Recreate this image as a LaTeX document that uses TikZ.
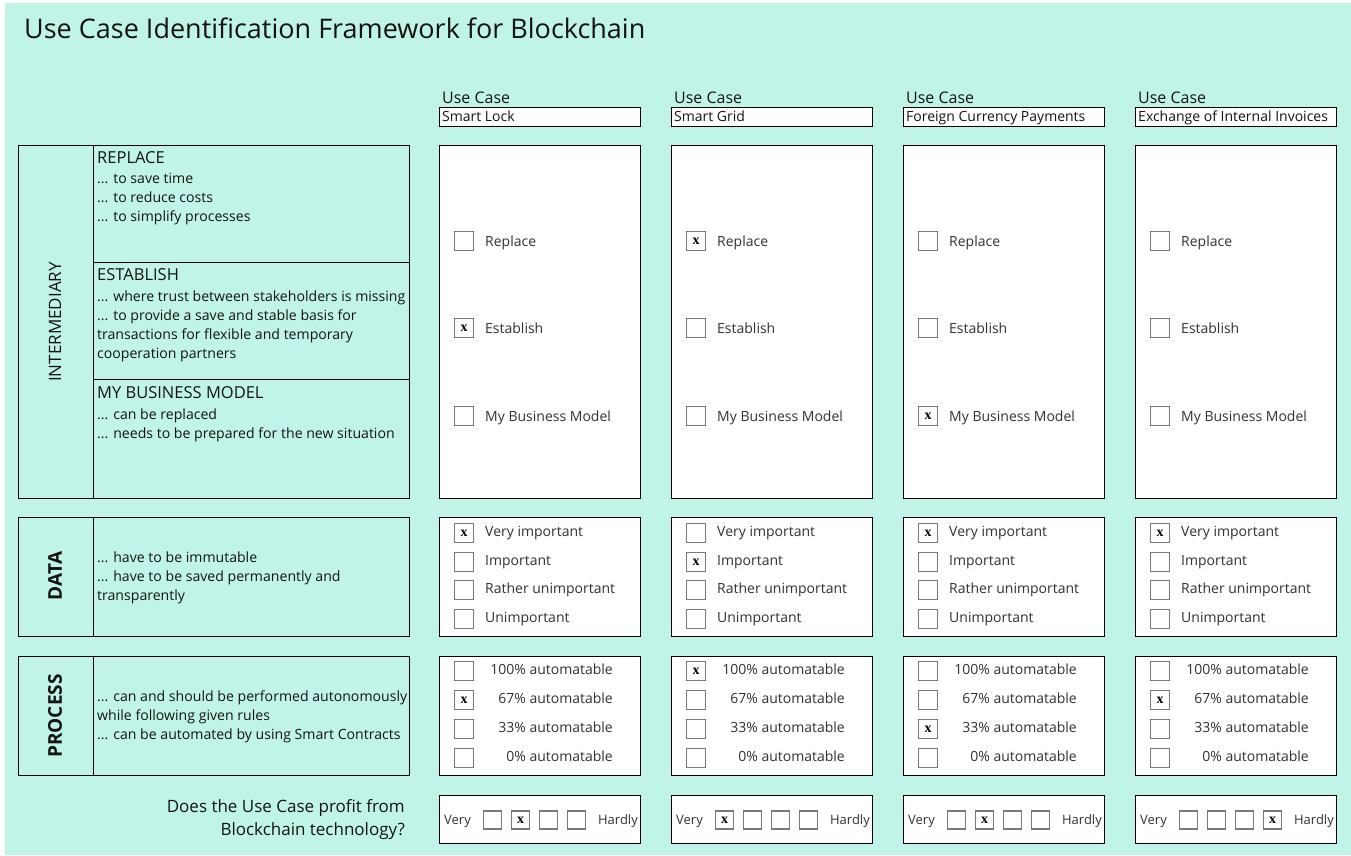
\documentclass[tikz,border=0pt]{standalone}
\usepackage{fontspec}
\setmainfont{Open Sans}
\newfontfamily\xfont{Liberation Serif}
\definecolor{mint}{RGB}{192,244,232}
\definecolor{cbgray}{RGB}{120,120,120}
\definecolor{ink}{RGB}{20,20,20}
\definecolor{labink}{RGB}{50,50,50}
\newcommand{\fs}[1]{\fontsize{#1}{#1}\selectfont}
\begin{document}
\begin{tikzpicture}[x=1pt,y=-1pt,
  frame/.style={draw=black,line width=1pt,inner sep=0pt,anchor=north west},
  wbox/.style={frame,fill=white},
  cb/.style={draw=cbgray,line width=1.3pt,fill=white,minimum size=19pt,inner sep=0pt,font=\xfont\fs{14}\bfseries},
  sb/.style={cb,minimum size=18pt},
  tx/.style={inner sep=0pt,text=ink,anchor=base west},
  txr/.style={inner sep=0pt,text=ink,anchor=base east},
  desc/.style={tx,font=\fs{14.1}},
  head/.style={tx,font=\fs{16.5}},
  lab/.style={tx,text=labink,font=\fs{14}},
  labr/.style={txr,text=labink,font=\fs{14}},
  side/.style={inner sep=0pt,text=ink,rotate=90}
]
\fill[white] (0,0) rectangle (1351,855);
\fill[mint] (5,3) rectangle (1351,855);
\useasboundingbox (0,0) rectangle (1351,855);

\node[tx,font=\fs{27}] (title) at (24,38) {Use Case Identification Framework for Blockchain};

% left side: intermediary
\node[frame,minimum width=391pt,minimum height=353pt] (intL) at (18,145) {};
\draw[line width=1pt] (93,145) -- (93,498);
\draw[line width=1pt] (93,262) -- (409,262);
\draw[line width=1pt] (93,379) -- (409,379);
\node[side,font=\fs{17}] (intlab) at (55,322) {INTERMEDIARY};
\node[head] (rephead) at (97,163) {REPLACE};
\node[desc] (rep1) at (97,183) {... to save time};
\node[desc] (rep2) at (97,202) {... to reduce costs};
\node[desc] (rep3) at (97,221) {... to simplify processes};
\node[head] (esthead) at (97,280) {ESTABLISH};
\node[desc] (est1) at (97,301) {... where trust between stakeholders is missing};
\node[desc] (est2) at (97,320) {... to provide a save and stable basis for};
\node[desc] (est3) at (97,339) {transactions for flexible and temporary};
\node[desc] (est4) at (97,358) {cooperation partners};
\node[head] (bmhead) at (97,398) {MY BUSINESS MODEL};
\node[desc] (bm1) at (97,419) {... can be replaced};
\node[desc] (bm2) at (97,438) {... needs to be prepared for the new situation};

% data
\node[frame,minimum width=391pt,minimum height=119pt] (datL) at (18,517) {};
\draw[line width=1pt] (93,517) -- (93,636);
\node[side,font=\fs{19}\bfseries] (datlab) at (55,576) {DATA};
\node[desc] (dat1) at (97,562) {... have to be immutable};
\node[desc] (dat2) at (97,581) {... have to be saved permanently and};
\node[desc] (dat3) at (97,600) {transparently};

% process
\node[frame,minimum width=391pt,minimum height=119pt] (proL) at (18,656) {};
\draw[line width=1pt] (93,656) -- (93,775);
\node[side,font=\fs{19}\bfseries] (prolab) at (55,716) {PROCESS};
\node[desc] (pro1) at (97,701) {... can and should be performed autonomously};
\node[desc] (pro2) at (97,720) {while following given rules};
\node[desc] (pro3) at (97,739) {... can be automated by using Smart Contracts};

% question
\node[txr,font=\fs{17}] (q1) at (405,812) {Does the Use Case profit from};
\node[txr,font=\fs{17}] (q2) at (405,835) {Blockchain technology?};

% columns
\foreach \cx/\name/\ci/\cd/\cp/\cq [count=\c] in
  {439/Smart Lock/2/1/2/2,
   671/Smart Grid/1/2/1/1,
   903/Foreign Currency Payments/3/1/3/2,
   1135/Exchange of Internal Invoices/0/1/2/4}
{
  \node[tx,font=\fs{16}] (uc\c) at (\cx+3,103) {Use Case};
  \node[wbox,minimum width=201pt,minimum height=19pt] (nm\c) at (\cx,107) {};
  \node[tx,font=\fs{14}] (nmt\c) at (\cx+3,121) {\name};
  \node[wbox,minimum width=201pt,minimum height=353pt] (int\c) at (\cx,145) {};
  \node[wbox,minimum width=201pt,minimum height=119pt] (dat\c) at (\cx,517) {};
  \node[wbox,minimum width=201pt,minimum height=119pt] (pro\c) at (\cx,656) {};
  \node[wbox,minimum width=201pt,minimum height=48pt] (bot\c) at (\cx,795) {};
  \foreach \lab/\yy [count=\r] in {Replace/241,Establish/328,My Business Model/416}{
    \node[cb] (ib\c-\r) at (\cx+25,\yy) {\ifnum\r=\ci x\fi};
    \node[lab] (il\c-\r) at (\cx+46,\yy+5) {\lab};
  }
  \foreach \lab/\yy [count=\r] in {Very important/533,Important/562,Rather unimportant/590,Unimportant/619}{
    \node[cb] (db\c-\r) at (\cx+25,\yy) {\ifnum\r=\cd x\fi};
    \node[lab] (dl\c-\r) at (\cx+46,\yy+3) {\lab};
  }
  \foreach \lab/\yy [count=\r] in {100\%/671,67\%/700,33\%/729,0\%/758}{
    \node[cb] (pb\c-\r) at (\cx+25,\yy) {\ifnum\r=\cp x\fi};
    \node[labr] (pl\c-\r) at (\cx+174,\yy+3) {\lab{} automatable};
  }
  \node[tx,text=labink,font=\fs{13}] (very\c) at (\cx+5,824) {Very};
  \node[txr,text=labink,font=\fs{13}] (hard\c) at (\cx+199,824) {Hardly};
  \foreach \bx [count=\r] in {53.5,81.5,109.5,137.5}{
    \node[sb] (bb\c-\r) at (\cx+\bx,820) {\ifnum\r=\cq x\fi};
  }
}
\end{tikzpicture}
\end{document}
